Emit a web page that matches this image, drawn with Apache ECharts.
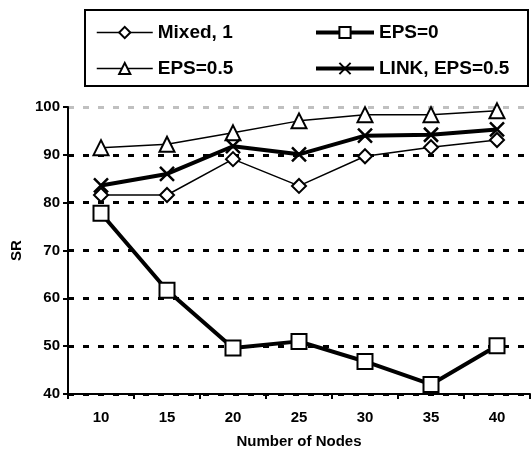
<!DOCTYPE html>
<html>
<head>
<meta charset="utf-8">
<script src="https://cdn.jsdelivr.net/npm/echarts@6/dist/echarts.min.js"></script>
<style>
  html, body { margin: 0; padding: 0; background: #fff; }
  #main { width: 532px; height: 454px; }
</style>
</head>
<body>
<div id="main"></div>
<script>
var nodes = ['10', '15', '20', '25', '30', '35', '40'];
var mixed1 = [81.6, 81.6, 89.1, 83.5, 89.7, 91.6, 93.1];
var eps0 = [77.8, 61.7, 49.6, 51.0, 46.8, 42.0, 50.1];
var eps05 = [91.5, 92.2, 94.6, 97.1, 98.4, 98.4, 99.2];
var linkEps05 = [83.6, 86.0, 91.8, 90.1, 94.0, 94.2, 95.3];

var font = 'Liberation Sans, Arial, sans-serif';
var crossPath = 'path://M0,0L10,10M10,0L0,10';

function makeSeries(name, data, symbol, size, width) {
  return {
    name: name,
    type: 'line',
    data: data,
    symbol: symbol,
    symbolSize: size,
    showAllSymbol: true,
    lineStyle: { color: '#000', width: width },
    itemStyle: { color: '#fff', borderColor: '#000', borderWidth: 2 },
    emphasis: { disabled: true },
    animation: false
  };
}

var series = [
  makeSeries('Mixed, 1', mixed1, 'diamond', 14, 1.5),
  makeSeries('EPS=0', eps0, 'rect', 15, 4),
  makeSeries('EPS=0.5', eps05, 'triangle', 15, 1.5),
  makeSeries('LINK, EPS=0.5', linkEps05, crossPath, 14, 4)
];
series[3].itemStyle = { color: '#000', borderColor: '#000', borderWidth: 2.5 };

var legendText = { fontFamily: font, fontWeight: 'bold', fontSize: 19, color: '#000' };

var chart = echarts.init(document.getElementById('main'));
chart.setOption({
  animation: false,
  backgroundColor: '#fff',
  grid: { left: 68, right: 2, top: 107, bottom: 56 },
  graphic: [{
    type: 'rect',
    shape: { x: 85, y: 10, width: 443, height: 76 },
    style: { fill: 'none', stroke: '#000', lineWidth: 2 }
  }],
  legend: [{
    data: [
      { name: 'Mixed, 1', lineStyle: { width: 1.5 } },
      { name: 'EPS=0.5', lineStyle: { width: 1.5 } }
    ],
    orient: 'vertical',
    left: 91, top: 18,
    itemWidth: 56, itemHeight: 14, itemGap: 17,
    textStyle: legendText
  }, {
    data: [
      { name: 'EPS=0', lineStyle: { width: 4 } },
      { name: 'LINK, EPS=0.5', lineStyle: { width: 4 } }
    ],
    orient: 'vertical',
    left: 309, top: 18,
    itemWidth: 58, itemHeight: 14, itemGap: 17,
    textStyle: legendText
  }],
  xAxis: {
    type: 'category',
    data: nodes,
    boundaryGap: true,
    name: 'Number of Nodes',
    nameLocation: 'middle',
    nameGap: 40,
    nameTextStyle: { fontFamily: font, fontWeight: 'bold', fontSize: 15, color: '#000' },
    axisLine: { lineStyle: { color: '#000', width: 2 } },
    axisTick: { show: true, length: 5, lineStyle: { color: '#000', width: 2 } },
    axisLabel: { margin: 16, fontFamily: font, fontWeight: 'bold', fontSize: 15, color: '#000' },
    splitLine: { show: false }
  },
  yAxis: {
    type: 'value',
    min: 40, max: 100, interval: 10,
    name: 'SR',
    nameLocation: 'middle',
    nameGap: 44,
    nameTextStyle: { fontFamily: font, fontWeight: 'bold', fontSize: 15, color: '#000' },
    axisLine: { show: true, lineStyle: { color: '#000', width: 2 } },
    axisTick: { show: true, length: 5, lineStyle: { color: '#000', width: 2 } },
    axisLabel: { margin: 8, fontFamily: font, fontWeight: 'bold', fontSize: 15, color: '#000' },
    splitLine: {
      show: true,
      lineStyle: {
        color: ['#000', '#000', '#000', '#000', '#000', '#000', '#c0c0c0'],
        width: 3,
        type: [6, 9]
      }
    }
  },
  series: series
});
</script>
</body>
</html>
